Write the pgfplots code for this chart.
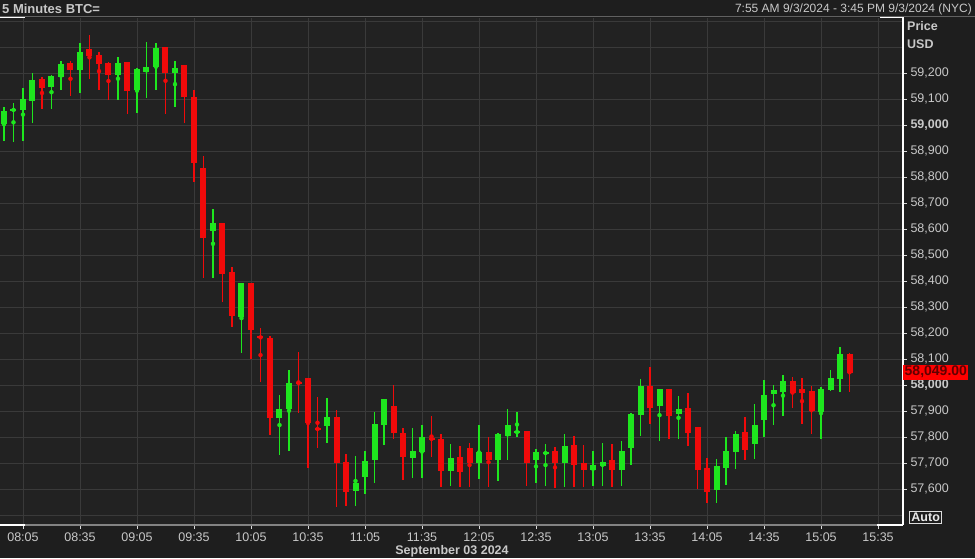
\documentclass[border=0pt]{standalone}
\usepackage{pgfplots}
\pgfplotsset{compat=1.18}
\usepackage{pgfplotstable}
\usepackage{fontspec}
\setmainfont{Liberation Sans}
\definecolor{bg}{HTML}{1E1E1E}
\definecolor{plotbg}{HTML}{222222}
\definecolor{gridc}{HTML}{3A3A3A}
\definecolor{txt}{HTML}{C8C8C8}
\definecolor{cgreen}{HTML}{1EE61E}
\definecolor{cred}{HTML}{F00A0A}
\definecolor{dred}{HTML}{600000}

\pgfplotstableread{
x o h l c
0 59006 59069 58938 59055
1 59054 59085 58938 59062
2 59058 59142 58938 59101
3 59093 59200 59008 59173
5 59147 59192 59062 59188
6 59185 59246 59135 59238
8 59212 59315 59123 59281
12 59192 59262 59096 59238
14 59138 59219 59046 59215
15 59204 59319 59104 59223
16 59223 59315 59135 59296
18 59200 59246 59069 59219
22 58592 58677 58412 58623
25 58262 58392 58123 58392
29 57873 57962 57731 57908
30 57908 58058 57746 58008
34 57842 57950 57777 57877
37 57592 57727 57535 57623
38 57646 57746 57581 57708
39 57712 57896 57623 57850
40 57846 57946 57769 57946
43 57719 57835 57642 57746
44 57742 57846 57642 57800
47 57669 57773 57612 57719
50 57700 57846 57638 57742
52 57712 57815 57631 57812
53 57804 57908 57712 57846
54 57815 57896 57800 57825
56 57715 57754 57623 57742
57 57735 57773 57612 57743
59 57700 57815 57608 57765
62 57673 57746 57612 57692
63 57689 57777 57612 57704
65 57673 57785 57612 57746
66 57758 57892 57692 57888
67 57888 58023 57804 57999
69 57919 57985 57785 57985
71 57888 57958 57792 57908
75 57596 57715 57546 57689
76 57681 57800 57615 57746
77 57742 57823 57677 57815
79 57773 57927 57715 57846
80 57865 58019 57800 57962
81 57965 58000 57846 57981
82 57973 58039 57881 58015
86 57896 57992 57792 57985
87 57981 58058 57977 58027
88 58023 58146 57973 58119
}\greentab

\pgfplotstableread{
x o h l c
4 59178 59186 59062 59143
7 59238 59246 59112 59212
9 59292 59346 59177 59265
10 59269 59281 59135 59235
11 59238 59242 59096 59192
13 59242 59242 59042 59131
17 59300 59300 59042 59200
19 59231 59231 59008 59108
20 59108 59138 58781 58854
21 58835 58881 58412 58569
23 58623 58623 58319 58427
24 58435 58454 58223 58265
26 58392 58392 58100 58212
27 58188 58219 58012 58180
28 58181 58188 57808 57873
31 58013 58127 57892 58003
32 58027 58027 57681 57854
33 57836 57954 57758 57826
35 57877 57904 57531 57700
36 57704 57738 57535 57589
41 57919 58000 57792 57815
42 57815 57835 57635 57723
45 57798 57881 57723 57790
46 57792 57812 57608 57669
48 57723 57765 57608 57665
49 57758 57777 57608 57700
51 57742 57800 57608 57712
55 57823 57823 57612 57700
58 57746 57762 57604 57700
60 57769 57804 57608 57692
61 57700 57769 57608 57673
64 57712 57773 57608 57673
68 57999 58069 57850 57912
70 57985 57985 57792 57881
72 57912 57969 57765 57815
73 57838 57838 57600 57673
74 57681 57719 57546 57589
78 57819 57877 57712 57750
83 58015 58031 57912 57969
84 57988 58027 57850 57969
85 57977 57996 57812 57900
89 58119 58125 57973 58049
}\redtab

\begin{document}
\begin{tikzpicture}
\fill[bg] (0pt,-33pt) rectangle (975pt,525pt);
\useasboundingbox (0pt,-33pt) rectangle (975pt,525pt);
\begin{axis}[
  at={(0pt,0pt)}, anchor=south west,
  scale only axis, width=903pt, height=507pt,
  xmin=-0.42, xmax=94.63, ymin=57461.6, ymax=59411.5,
  scaled y ticks=false, scaled x ticks=false,
  axis background/.style={fill=plotbg},
  axis line style={draw=none},
  grid=major, grid style={gridc, line width=0.8pt},
  tick align=outside, major tick length=4pt,
  tick style={draw=txt!70, line width=0.8pt},
  xtick pos=bottom, ytick pos=right, yticklabel pos=right,
  xtick={2,8,14,20,26,32,38,44,50,56,62,68,74,80,86,92},
  xticklabels={08:05,08:35,09:05,09:35,10:05,10:35,11:05,11:35,12:05,12:35,13:05,13:35,14:05,14:35,15:05,15:35},
  ytick={57600,57700,57800,57900,58000,58100,58200,58300,58400,58500,58600,58700,58800,58900,59000,59100,59200},
  yticklabels={{57,600},{57,700},{57,800},{57,900},{\textbf{58,000}},{58,100},{58,200},{58,300},{58,400},{58,500},{58,600},{58,700},{58,800},{58,900},{\textbf{59,000}},{59,100},{59,200}},
  extra y ticks={57500,59300,59400},
  extra y tick labels={{},{},{}},
  extra y tick style={major tick length=0pt, grid=major},
  ticklabel style={font=\fontsize{12.5}{14}\selectfont, text=txt},
]
\addplot[cgreen, only marks, mark=none, forget plot,
  error bars/.cd, y dir=both, y explicit, error mark=none,
  error bar style={cgreen, line width=1.1pt}]
  table[x=x, y expr={(\thisrow{h}+\thisrow{l})/2}, y error expr={(\thisrow{h}-\thisrow{l})/2}] {\greentab};
\addplot[cgreen, only marks, mark=none, forget plot,
  error bars/.cd, y dir=both, y explicit, error mark=none,
  error bar style={cgreen, line width=6pt}]
  table[x=x, y expr={(\thisrow{o}+\thisrow{c})/2}, y error expr={abs(\thisrow{c}-\thisrow{o})/2}] {\greentab};
\addplot[cred, only marks, mark=none, forget plot,
  error bars/.cd, y dir=both, y explicit, error mark=none,
  error bar style={cred, line width=1.1pt}]
  table[x=x, y expr={(\thisrow{h}+\thisrow{l})/2}, y error expr={(\thisrow{h}-\thisrow{l})/2}] {\redtab};
\addplot[cred, only marks, mark=none, forget plot,
  error bars/.cd, y dir=both, y explicit, error mark=none,
  error bar style={cred, line width=6pt}]
  table[x=x, y expr={(\thisrow{o}+\thisrow{c})/2}, y error expr={abs(\thisrow{o}-\thisrow{c})/2}] {\redtab};
\end{axis}
% frame lines
\draw[gridc!80!white, line width=1pt] (0pt,508pt) -- (975pt,508pt);
\draw[white, line width=1.2pt] (903pt,0pt) -- (903pt,508pt);
\draw[white!45!bg, line width=1.2pt] (0pt,0pt) -- (903pt,0pt);
\draw[white, line width=1.2pt] (0pt,0pt) -- (25pt,0pt);
\draw[white, line width=1.2pt] (877pt,0pt) -- (903pt,0pt);
\draw[white, line width=1.2pt] (0pt,507.5pt) -- (25pt,507.5pt);
\draw[white, line width=1.2pt] (880pt,507.5pt) -- (903pt,507.5pt);
% header
\node[anchor=west, inner sep=0pt, text=txt, font=\fontsize{13}{15}\selectfont\bfseries] at (2pt,516pt) {5 Minutes BTC=};
\node[anchor=east, inner sep=0pt, text=txt, font=\fontsize{12}{14}\selectfont] at (972pt,516pt) {7:55 AM 9/3/2024 - 3:45 PM 9/3/2024 (NYC)};
\node[anchor=west, inner sep=0pt, text=txt, font=\fontsize{12.5}{14}\selectfont\bfseries] at (907pt,499pt) {Price};
\node[anchor=west, inner sep=0pt, text=txt, font=\fontsize{12.5}{14}\selectfont\bfseries] at (907pt,481pt) {USD};
% last price
\node[anchor=west, fill=red, inner xsep=1.5pt, inner ysep=1.5pt, minimum height=15pt, text=dred, font=\fontsize{14}{15}\selectfont\bfseries] at (903pt,153pt) {58,049.00};
% auto box
\node[anchor=west, draw=white!85!bg, line width=0.9pt, inner xsep=2pt, inner ysep=2pt, text=white!90!bg, font=\fontsize{12.5}{14}\selectfont\bfseries] at (909pt,7.5pt) {Auto};
% date label
\node[inner sep=0pt, text=txt, font=\fontsize{12.5}{14}\selectfont\bfseries] at (452pt,-26pt) {September 03 2024};
\end{tikzpicture}
\end{document}
